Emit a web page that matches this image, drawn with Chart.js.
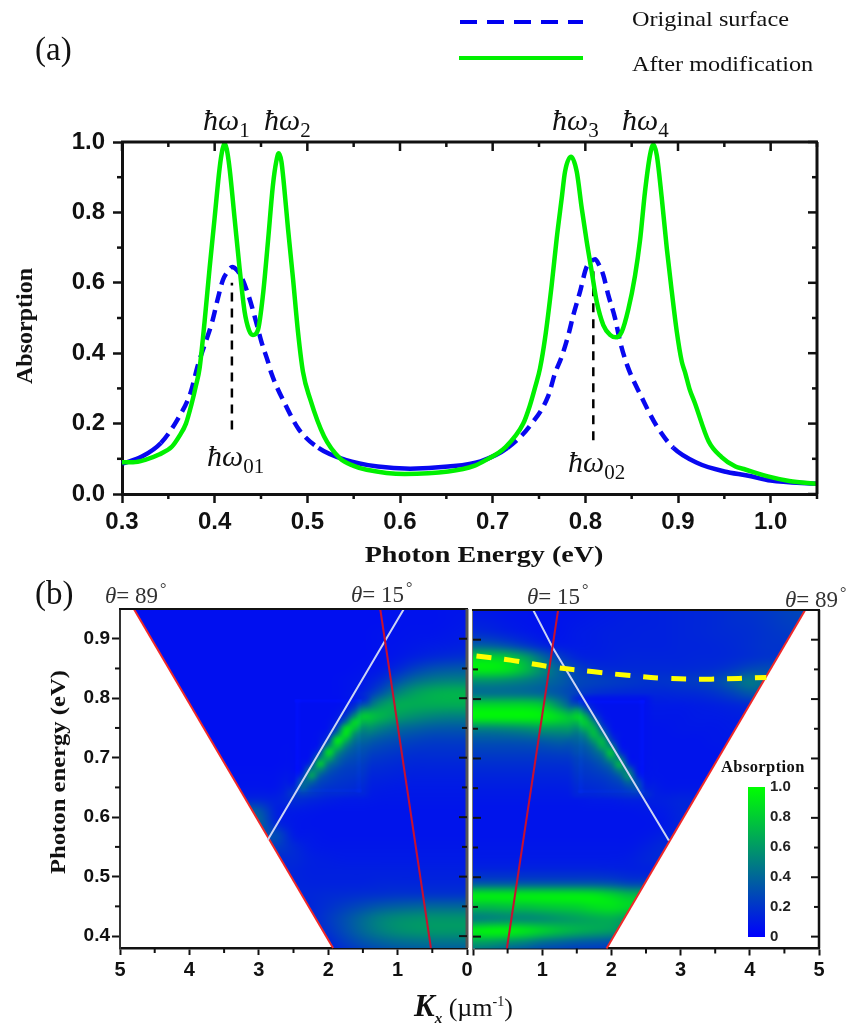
<!DOCTYPE html>
<html>
<head>
<meta charset="utf-8">
<title>Absorption spectra</title>
<script src="https://cdn.jsdelivr.net/npm/chart.js@4"></script>
<style>
  html, body { margin: 0; padding: 0; background: #fff; }
  #page { position: relative; width: 846px; height: 1030px; overflow: hidden; }
  canvas { position: absolute; left: 0; top: 0; }
  .t { position: absolute; white-space: nowrap; font-family: "Liberation Serif", serif; color: #111; line-height: 1; }
  .st { transform-origin: left center; transform: scaleX(1.155); font-size: 21px; }
  .w { font-size: 30px; font-style: italic; }
  .w sub { font-size: 21px; font-style: normal; vertical-align: -7px; line-height: 0; }
  .th { font-size: 23px; color: #333; }
  .th sup { font-size: 16px; vertical-align: 9px; line-height: 0; margin-left: 2px; }
  .ax { font-weight: bold; transform: translate(-50%, -50%); }
  .dash { position: absolute; left: 460px; top: 20px; width: 123px; height: 4px;
    background: repeating-linear-gradient(90deg, #0000f0 0 17px, transparent 17px 27px); }
  .solid { position: absolute; left: 459px; top: 56px; width: 124px; height: 4px; background: #00f000; }
</style>
</head>
<body>
<div id="page">
  <canvas id="top" width="846" height="1030"></canvas>
  <canvas id="left" width="846" height="1030"></canvas>
  <canvas id="right" width="846" height="1030"></canvas>
  <canvas id="bar" width="90" height="190" style="left:740px;top:770px"></canvas>

  <div class="dash"></div>
  <div class="solid"></div>
  <div class="t st" style="left:632px;top:9px">Original surface</div>
  <div class="t st" style="left:632px;top:54px">After modification</div>
  <div class="t" style="left:35px;top:33px;font-size:33px">(a)</div>
  <div class="t" style="left:35px;top:577px;font-size:33px">(b)</div>

  <div class="t w" style="left:203px;top:105px">&#295;&#969;<sub>1</sub></div>
  <div class="t w" style="left:264px;top:105px">&#295;&#969;<sub>2</sub></div>
  <div class="t w" style="left:552px;top:105px">&#295;&#969;<sub>3</sub></div>
  <div class="t w" style="left:622px;top:105px">&#295;&#969;<sub>4</sub></div>
  <div class="t w" style="left:207px;top:441px">&#295;&#969;<sub>01</sub></div>
  <div class="t w" style="left:568px;top:447px">&#295;&#969;<sub>02</sub></div>

  <div class="t ax" style="left:24px;top:326px;font-size:24px;transform:translate(-50%,-50%) rotate(-90deg)">Absorption</div>
  <div class="t ax" style="left:484px;top:554px;font-size:24px;transform:translate(-50%,-50%) scaleX(1.17)">Photon Energy (eV)</div>
  <div class="t ax" style="left:58px;top:772px;font-size:22px;transform:translate(-50%,-50%) rotate(-90deg) scaleX(1.12)">Photon energy (eV)</div>

  <div class="t th" style="left:105px;top:584px"><i>&#952;</i>= 89<sup>&#176;</sup></div>
  <div class="t th" style="left:351px;top:583px"><i>&#952;</i>= 15<sup>&#176;</sup></div>
  <div class="t th" style="left:527px;top:585px"><i>&#952;</i>= 15<sup>&#176;</sup></div>
  <div class="t th" style="left:785px;top:588px"><i>&#952;</i>= 89<sup>&#176;</sup></div>

  <div class="t" style="left:721px;top:759px;font-size:16.5px;font-weight:bold;letter-spacing:.4px">Absorption</div>
  <div class="t" style="left:414px;top:990px;font-size:26px">
    <b style="font-size:31px"><i>K</i></b><b style="font-size:15px;vertical-align:-7px"><i>x</i></b>
    (&#181;m<sup style="font-size:14px;vertical-align:10px;line-height:0">-1</sup>)
  </div>
</div>

<script>
/* (a) spectra */
const originalEnergy = [.30,.322,.342,.36,.374,.3819,.3891,.3974,.4035,.4089,.414,.419,.4245,.4288,.437,.4432,.4504,.4575,.4612,.477,.491,.512,.541,.576,.611,.652,.687,.716,.74,.76,.7673,.7745,.7817,.7871,.7943,.8008,.806,.8105,.815,.8194,.8248,.8321,.8375,.8454,.86,.877,.895,.921,.95,.976,1.0,1.05];
const originalAbs = [.086,.107,.145,.212,.288,.366,.423,.49,.556,.608,.632,.645,.635,.617,.56,.504,.433,.376,.343,.25,.183,.131,.097,.078,.072,.078,.093,.131,.193,.279,.343,.39,.452,.509,.575,.641,.66,.667,.65,.622,.565,.499,.433,.364,.279,.193,.131,.088,.064,.052,.038,.029];
const modifiedEnergy = [.30,.312,.325,.34,.354,.362,.369,.375,.38,.3837,.3891,.3945,.3999,.4053,.4085,.4107,.413,.4161,.4215,.4269,.4323,.437,.4413,.4467,.4521,.4575,.4629,.4665,.4691,.472,.4748,.4791,.4845,.4899,.4953,.503,.518,.535,.55,.564,.605,.652,.68,.693,.713,.733,.74,.746,.7511,.7565,.7637,.7691,.7745,.7781,.7846,.7907,.7961,.8015,.8069,.8123,.8194,.8267,.8331,.8393,.8464,.8536,.859,.8644,.8698,.8735,.8771,.8825,.8879,.8933,.8987,.9041,.9077,.9125,.918,.933,.947,.962,.971,.997,1.02,1.05];
const modifiedAbs = [.09,.09,.097,.112,.135,.165,.2,.255,.31,.357,.4895,.641,.783,.925,.98,.996,.98,.925,.783,.641,.518,.466,.452,.466,.565,.717,.878,.945,.968,.945,.878,.755,.613,.461,.347,.27,.164,.102,.08,.069,.057,.064,.08,.097,.131,.2,.25,.305,.357,.442,.594,.726,.84,.916,.958,.916,.812,.717,.632,.546,.48,.452,.445,.461,.525,.62,.72,.859,.963,.993,.963,.84,.698,.575,.461,.376,.345,.298,.26,.15,.105,.078,.071,.05,.037,.029];
const peakMarkEnergy = [.4186, .8086];
const peakMarkTop = [.6, .64];
const peakMarkBottom = [.183, .153];

const topXMajor = [.3,.4,.5,.6,.7,.8,.9,1.0];
const topXMinor = [.35,.45,.55,.65,.75,.85,.95,1.05];
const topYMajor = [0,.2,.4,.6,.8,1.0];
const topYMinor = [.1,.3,.5,.7,.9];

/* (b) maps: columns are Kx 0..5 in steps of .25, rows are energies below, values in percent */
const kxStep = .25;
const mapEnergy = [.95,.93,.91,.89,.87,.85,.83,.81,.79,.77,.75,.73,.71,.69,.67,.65,.63,.61,.59,.57,.55,.53,.51,.49,.47,.45,.43,.41,.39,.37];
const leftMap = [
  [8,8,7,7,7,6,6,6,6,6,6,6,6,6,6,6,6,6,6,6,6],
  [9,8,7,7,7,6,6,6,6,6,6,6,6,6,6,6,6,6,6,6,6],
  [10,9,8,8,7,7,6,6,6,6,6,6,6,6,6,6,6,6,6,6,6],
  [12,11,10,9,8,7,6,6,6,6,6,6,6,6,6,6,6,6,6,6,6],
  [18,17,15,12,9,7,6,6,6,6,6,6,6,6,6,6,6,6,6,6,6],
  [34,33,30,24,15,9,7,6,6,6,6,6,6,6,6,6,6,6,6,6,6],
  [50,50,48,42,30,16,9,7,6,6,6,6,6,6,6,6,6,6,6,6,6],
  [70,70,68,62,50,30,12,7,6,6,6,6,6,6,6,6,6,6,6,6,6],
  [68,68,68,68,68,58,30,9,6,6,6,6,6,6,6,6,6,6,6,6,6],
  [50,50,52,56,62,72,78,20,7,6,6,6,6,6,6,6,6,6,6,6,6],
  [34,34,35,38,42,50,62,70,9,6,6,6,6,6,6,6,6,6,6,6,6],
  [24,24,24,26,29,33,40,50,20,7,6,6,6,6,6,6,6,6,6,6,6],
  [19,19,19,19,21,24,28,36,60,8,7,6,6,6,6,6,6,6,6,6,6],
  [15,15,15,15,16,18,20,24,36,20,8,6,6,6,6,6,6,6,6,6,6],
  [12,12,12,12,13,14,15,18,24,40,12,7,7,7,7,7,7,7,7,7,7],
  [10,10,10,10,10,11,12,13,16,24,16,8,8,8,8,8,8,8,8,8,8],
  [9,9,9,9,9,9,10,10,12,15,18,12,14,14,14,14,14,14,14,14,14],
  [8,8,8,8,8,8,8,8,8,9,10,12,35,40,40,40,40,40,40,40,40],
  [8,8,8,8,8,8,8,8,8,8,9,14,40,40,40,40,40,40,40,40,40],
  [8,8,8,8,8,8,8,8,8,9,10,30,30,30,30,30,30,30,30,30,30],
  [9,9,9,9,9,9,9,9,9,10,16,24,24,24,24,24,24,24,24,24,24],
  [10,10,10,10,10,10,10,10,11,12,16,16,16,16,16,16,16,16,16,16,16],
  [12,12,12,12,12,12,12,12,12,12,14,16,16,16,16,16,16,16,16,16,16],
  [14,14,14,14,14,14,13,13,13,13,14,14,14,14,14,14,14,14,14,14,14],
  [20,20,20,20,20,19,18,17,16,15,15,15,15,15,15,15,15,15,15,15,15],
  [40,40,40,39,37,34,29,24,19,15,14,14,14,14,14,14,14,14,14,14,14],
  [58,58,58,57,55,50,41,31,22,15,14,14,14,14,14,14,14,14,14,14,14],
  [60,60,60,59,56,50,41,30,20,14,12,12,12,12,12,12,12,12,12,12,12],
  [45,45,45,44,42,38,32,24,15,11,10,10,10,10,10,10,10,10,10,10,10],
  [32,32,32,31,29,26,22,17,11,9,9,9,9,9,9,9,9,9,9,9,9]
];
const rightMap = [
  [9,9,8,8,7,7,8,9,10,11,12,13,14,15,16,18,20,22,25,28,30],
  [12,11,9,8,7,8,9,10,11,12,12,13,14,15,16,18,19,21,24,26,28],
  [18,16,13,10,8,8,10,11,12,12,13,13,14,15,16,17,18,20,22,24,26],
  [38,36,30,22,14,10,10,11,12,13,13,13,14,14,15,16,18,20,20,20,20],
  [85,85,80,65,42,24,14,12,13,14,14,14,14,15,15,16,18,20,20,20,20],
  [95,95,90,75,55,38,26,18,16,16,16,16,16,17,18,22,28,30,30,30,30],
  [55,55,52,48,42,36,28,26,24,22,20,20,22,24,28,38,48,40,40,40,40],
  [42,42,42,41,38,32,24,18,16,15,15,15,16,17,20,26,34,34,34,34,34],
  [85,85,85,85,80,55,26,12,10,10,10,10,10,11,12,14,16,16,16,16,16],
  [98,98,98,98,96,88,70,18,9,9,9,9,9,10,10,11,12,12,12,12,12],
  [50,50,52,55,60,60,60,40,9,8,8,8,9,9,9,10,10,10,10,10,10],
  [32,32,32,33,35,38,36,60,15,9,8,8,8,8,9,9,9,9,9,9,9],
  [24,24,24,24,24,25,26,38,50,8,8,8,8,8,8,9,9,9,9,9,9],
  [18,18,18,18,18,18,19,24,35,14,9,8,8,8,8,8,8,8,8,8,8],
  [14,14,14,14,14,14,15,17,25,30,10,8,8,8,8,8,8,8,8,8,8],
  [11,11,11,11,11,11,12,13,16,20,14,9,9,9,9,9,9,9,9,9,9],
  [9,9,9,9,9,9,9,10,10,12,12,12,14,14,14,14,14,14,14,14,14],
  [8,8,8,8,8,8,8,8,8,8,9,10,14,14,14,14,14,14,14,14,14],
  [8,8,8,8,8,8,8,8,8,8,8,9,14,14,14,14,14,14,14,14,14],
  [8,8,8,8,8,8,8,8,8,8,9,12,14,14,14,14,14,14,14,14,14],
  [9,9,9,9,9,9,9,9,9,9,12,16,16,16,16,16,16,16,16,16,16],
  [10,10,10,10,10,10,10,10,10,11,14,16,16,16,16,16,16,16,16,16,16],
  [15,15,15,15,15,15,15,15,14,13,13,13,13,13,13,13,13,13,13,13,13],
  [32,32,32,32,32,32,32,32,30,25,25,25,25,25,25,25,25,25,25,25,25],
  [95,95,95,95,95,95,95,93,85,75,75,75,75,75,75,75,75,75,75,75,75],
  [72,72,75,75,78,80,82,88,90,85,85,85,85,85,85,85,85,85,85,85,85],
  [48,50,52,52,54,58,62,66,68,60,60,60,60,60,60,60,60,60,60,60,60],
  [95,98,98,92,84,76,70,66,62,50,50,50,50,50,50,50,50,50,50,50,50],
  [62,60,55,50,42,38,34,32,30,26,26,26,26,26,26,26,26,26,26,26,26],
  [40,36,30,26,22,20,18,18,16,14,14,14,14,14,14,14,14,14,14,14,14]
];

/* finer patches for the narrow diagonal part of the band: Kx 1.5..2.5 by .125, E .80..64 by .01 */
const patchKxStart = 1.5;
const patchKxStep = .125;
const patchEStart = .80;
const patchEStep = .01;
const leftPatch = [
  [14,8,7,6,6,6,6,6,6],
  [30,14,8,6,6,6,6,6,6],
  [58,28,11,7,6,6,6,6,6],
  [80,55,20,9,6,6,6,6,6],
  [70,85,42,13,7,6,6,6,6],
  [55,78,85,24,8,6,6,6,6],
  [46,58,92,50,12,7,6,6,6],
  [40,46,72,92,24,8,6,6,6],
  [34,38,52,80,52,10,6,6,6],
  [30,33,40,58,88,22,7,6,6],
  [27,29,33,44,70,50,9,6,6],
  [24,26,28,36,48,80,18,7,6],
  [22,23,24,28,36,56,48,8,6],
  [20,21,22,24,28,38,65,18,7],
  [18,19,20,21,24,28,42,38,8],
  [16,17,18,19,20,23,28,40,14],
  [15,15,16,17,17,19,22,26,22]
];
const rightPatch = [
  [16,9,7,7,7,7,7,7,7],
  [34,18,9,7,7,7,7,7,7],
  [68,42,14,8,7,7,7,7,7],
  [85,70,30,10,7,7,7,7,7],
  [70,80,55,16,8,7,7,7,7],
  [55,68,72,30,9,7,7,7,7],
  [44,52,74,52,14,8,7,7,7],
  [38,42,60,72,26,8,7,7,7],
  [33,35,46,68,52,10,7,7,7],
  [30,31,38,50,78,20,8,7,7],
  [26,27,32,40,62,48,9,7,7],
  [24,24,27,33,44,72,18,8,7],
  [22,22,24,27,34,52,45,9,7],
  [20,20,21,23,27,36,58,16,8],
  [18,18,19,20,23,27,40,30,9],
  [16,16,17,18,20,22,27,32,12],
  [15,15,15,16,17,18,20,22,18]
];

/* lines over the maps */
const coneKx = [4.8, 1.93];
const coneE = [.95, .38];
const leftWhiteKx = [.91, 1.24, 2.87];
const rightWhiteKx = [.87, 1.16, 2.83];
const whiteE = [.95, .885, .562];
const leftRedKx = [1.25, .52];
const rightRedKx = [1.23, .49];
const redE = [.95, .38];
const yellowKx = [.05,.54,1.12,1.75,2.23,2.81,3.44,4.24];
const yellowE = [.8727,.8656,.8544,.846,.84,.8348,.8336,.8365];

const mapXMajor = [0,1,2,3,4,5];
const mapXMinor = [.5,1.5,2.5,3.5,4.5];
const mapYMajor = [.4,.5,.6,.7,.8,.9];
const mapYMinor = [.45,.55,.65,.75,.85];
const barTicks = [0,.2,.4,.6,.8,1];

const xy = (xs, ys) => xs.map((x, i) => ({ x, y: ys[i] }));
const INK = '#111';

/* frame: top/right borders and the ticks chart.js can't mix (minor, inward) */
const framePlugin = {
  id: 'frame',
  afterDraw(chart, args, o) {
    if (!o.xMajor) return;
    const { ctx, chartArea: a, scales: { x, y } } = chart;
    const tick = (x0, y0, x1, y1, w) => {
      ctx.lineWidth = w;
      ctx.beginPath(); ctx.moveTo(x0, y0); ctx.lineTo(x1, y1); ctx.stroke();
    };
    ctx.save();
    ctx.strokeStyle = INK;
    if (o.topBorder) tick(a.left - 1, a.top, a.right + 1, a.top, o.topBorder);
    ctx.strokeStyle = o.rightColor || INK;
    if (o.rightBorder) tick(a.right, a.top, a.right, a.bottom, o.rightBorder);
    ctx.strokeStyle = INK;
    const w = o.tickWidth;
    o.xMajor.forEach(v => { if (o.topTicks) tick(x.getPixelForValue(v), a.top, x.getPixelForValue(v), a.top + o.major, w); });
    o.xMinor.forEach(v => {
      const p = x.getPixelForValue(v);
      if (o.topTicks) tick(p, a.top, p, a.top + o.minor, w);
      tick(p, a.bottom, p, a.bottom + o.minor, w);
    });
    o.yMajor.forEach(v => {
      const p = y.getPixelForValue(v);
      if (o.inRight) tick(a.right, p, a.right - o.major, p, w);
      if (o.inLeft) tick(a.left, p, a.left + o.major, p, w);
    });
    o.yMinor.forEach(v => {
      const p = y.getPixelForValue(v);
      if (o.inRight) tick(a.right, p, a.right - o.minor, p, w);
      if (o.inLeft) tick(a.left, p, a.left + o.minor, p, w);
      if (o.outLeft) tick(a.left, p, a.left - o.minor, p, w);
    });
    ctx.restore();
  }
};

/* one value grid -> bitmap, with a transparent ring when it sits on top of another grid */
function gridBitmap(rows, ring) {
  const cols = rows[0].length;
  const off = document.createElement('canvas');
  off.width = cols + ring * 2;
  off.height = rows.length + ring * 2;
  const oc = off.getContext('2d');
  const img = oc.createImageData(off.width, off.height);
  rows.forEach((row, r) => row.forEach((v, c) => {
    const i = ((r + ring) * off.width + c + ring) * 4;
    img.data[i + 1] = Math.round(255 * v / 100);
    img.data[i + 2] = Math.round(255 * (1 - v / 100));
    img.data[i + 3] = 255;
  }));
  oc.putImageData(img, 0, 0);
  return off;
}

/* paints the grids through the x/y scales, smoothed by the canvas and cut at the light line */
const heatPlugin = {
  id: 'heat',
  beforeDatasetsDraw(chart, args, o) {
    if (!o.rows) return;
    const { ctx, chartArea: a, scales: { x, y } } = chart;
    const put = (bmp, k0, dk, e0, de) => {
      const x0 = x.getPixelForValue(k0);
      const x1 = x.getPixelForValue(k0 + dk * bmp.width);
      const y0 = y.getPixelForValue(e0);
      const y1 = y.getPixelForValue(e0 - de * bmp.height);
      ctx.save();
      ctx.translate(x0, y0);
      ctx.scale((x1 - x0) / bmp.width, (y1 - y0) / bmp.height);
      ctx.drawImage(bmp, 0, 0);
      ctx.restore();
    };

    ctx.save();
    ctx.beginPath();
    ctx.moveTo(x.getPixelForValue(0), y.getPixelForValue(coneE[0]));
    ctx.lineTo(x.getPixelForValue(coneKx[0]), y.getPixelForValue(coneE[0]));
    ctx.lineTo(x.getPixelForValue(coneKx[1]), y.getPixelForValue(coneE[1]));
    ctx.lineTo(x.getPixelForValue(0), y.getPixelForValue(coneE[1]));
    ctx.closePath();
    ctx.clip();
    ctx.imageSmoothingEnabled = true;
    ctx.imageSmoothingQuality = 'high';

    const dE = mapEnergy[0] - mapEnergy[1];
    put(gridBitmap(o.rows, 0), -kxStep / 2, kxStep, mapEnergy[0] + dE / 2, dE);
    put(gridBitmap(o.patch, 1), patchKxStart - patchKxStep * 1.5, patchKxStep, patchEStart + patchEStep * 1.5, patchEStep);
    ctx.restore();
  }
};

Chart.register(framePlugin, heatPlugin);

const sizeX = h => scale => { scale.height = h; };
const sizeY = w => scale => { scale.width = w; };
const line = (data, color, width, extra) => Object.assign({
  data, borderColor: color, borderWidth: width, showLine: true,
  pointRadius: 0, clip: 4
}, extra);

/* (a) */
new Chart(document.getElementById('top'), {
  type: 'scatter',
  data: {
    datasets: [
      line(xy(modifiedEnergy, modifiedAbs), '#00f000', 4.5, { cubicInterpolationMode: 'monotone' }),
      line(xy([peakMarkEnergy[0], peakMarkEnergy[0]], [peakMarkBottom[0], peakMarkTop[0]]), '#000', 2.5, { borderDash: [9, 7] }),
      line(xy([peakMarkEnergy[1], peakMarkEnergy[1]], [peakMarkBottom[1], peakMarkTop[1]]), '#000', 2.5, { borderDash: [9, 7] }),
      line(xy(originalEnergy, originalAbs), '#0808f0', 4.5, {
        cubicInterpolationMode: 'monotone',
        segment: { borderDash: c => (c.p0.parsed.y > .17 || c.p1.parsed.y > .17) ? [12, 7] : undefined }
      })
    ]
  },
  options: {
    responsive: false, animation: false, devicePixelRatio: 1,
    layout: { padding: { left: 14, top: 142, right: 29, bottom: 460 } },
    plugins: {
      legend: { display: false }, tooltip: { enabled: false },
      frame: { topBorder: 3, rightBorder: 3, topTicks: true, inRight: true, outLeft: true, major: 9, minor: 5, tickWidth: 2.5,
        xMajor: topXMajor, xMinor: topXMinor, yMajor: topYMajor, yMinor: topYMinor }
    },
    scales: {
      x: {
        type: 'linear', min: .3, max: 1.05, afterFit: sizeX(76),
        grid: { drawOnChartArea: false, tickLength: 9, tickWidth: 2.5, tickColor: INK },
        border: { width: 3, color: INK },
        ticks: { stepSize: .1, includeBounds: false, autoSkip: false, maxRotation: 0, padding: 5, color: '#111',
          font: { family: '"Liberation Sans"', weight: 'bold', size: 24 }, callback: v => v.toFixed(1) }
      },
      y: {
        min: 0, max: 1, afterFit: sizeY(108),
        grid: { drawOnChartArea: false, tickLength: 9, tickWidth: 2.5, tickColor: INK },
        border: { width: 3, color: INK },
        ticks: { stepSize: .2, padding: 8, color: '#111',
          font: { family: '"Liberation Sans"', weight: 'bold', size: 24 }, callback: v => v.toFixed(1) }
      }
    }
  }
});

const mapOptions = (rows, patch, reversed, yAxis, pad, frame) => ({
  responsive: false, animation: false, devicePixelRatio: 1,
  layout: { padding: pad },
  plugins: {
    legend: { display: false }, tooltip: { enabled: false },
    heat: { rows, patch },
    frame: Object.assign({ topBorder: 2, major: 8, minor: 5, tickWidth: 2,
      xMajor: mapXMajor, xMinor: mapXMinor, yMajor: mapYMajor, yMinor: mapYMinor }, frame)
  },
  scales: {
    x: {
      type: 'linear', min: 0, max: 5, reverse: reversed, afterFit: sizeX(36),
      grid: { drawOnChartArea: false, tickLength: 7, tickWidth: 2, tickColor: INK },
      border: { width: 2.5, color: INK },
      ticks: { stepSize: 1, autoSkip: false, maxRotation: 0, padding: 3, color: '#111',
        font: { family: '"Liberation Sans"', weight: 'bold', size: 20 },
        callback: v => (!reversed && v === 0) ? '' : v }
    },
    y: yAxis
  }
});

/* (b) left */
new Chart(document.getElementById('left'), {
  type: 'scatter',
  data: {
    datasets: [
      line(xy(leftRedKx, redE), '#c81030', 2),
      line(xy(leftWhiteKx, whiteE), '#ccd4f4', 2),
      line(xy(coneKx, coneE), '#f02828', 2)
    ]
  },
  options: mapOptions(leftMap, leftPatch, true, {
    min: .38, max: .95, afterFit: sizeY(74),
    grid: { drawOnChartArea: false, tickLength: 8, tickWidth: 2, tickColor: INK },
    border: { width: 2, color: '#333' },
    ticks: { stepSize: .1, padding: 2, color: '#111', autoSkip: false,
      font: { family: '"Liberation Sans"', weight: 'bold', size: 19 },
      callback: v => v.toFixed(1) },
    afterBuildTicks: s => { s.ticks = mapYMajor.map(value => ({ value })); }
  }, { left: 46, top: 609, right: 379, bottom: 46 }, { rightBorder: 3, rightColor: '#555', inRight: true, outLeft: true })
});

/* (b) right */
new Chart(document.getElementById('right'), {
  type: 'scatter',
  data: {
    datasets: [
      line(xy(yellowKx, yellowE), '#ffff00', 5, { borderDash: [15, 13], tension: .4 }),
      line(xy(rightRedKx, redE), '#c81030', 2),
      line(xy(rightWhiteKx, whiteE), '#ccd4f4', 2),
      line(xy(coneKx, coneE), '#f02828', 2)
    ]
  },
  options: mapOptions(rightMap, rightPatch, false, {
    min: .38, max: .95, afterFit: sizeY(0),
    grid: { display: false, drawTicks: false },
    border: { width: 3, color: '#777' },
    ticks: { display: false },
    afterBuildTicks: s => { s.ticks = mapYMajor.map(value => ({ value })); }
  }, { left: 473, top: 610, right: 27, bottom: 45.5 }, { rightBorder: 2.5, inRight: true, inLeft: true })
});

/* colour bar */
new Chart(document.getElementById('bar'), {
  type: 'bar',
  data: {
    labels: ['Absorption'],
    datasets: [{
      data: [[barTicks[0], barTicks[barTicks.length - 1]]],
      barPercentage: 1, categoryPercentage: 1, borderSkipped: false,
      backgroundColor: c => {
        const a = c.chart.chartArea;
        if (!a) return '#0000ff';
        const g = c.chart.ctx.createLinearGradient(0, a.bottom, 0, a.top);
        g.addColorStop(0, 'rgb(0,0,255)');
        g.addColorStop(1, 'rgb(0,255,0)');
        return g;
      }
    }]
  },
  options: {
    responsive: false, animation: false, devicePixelRatio: 1,
    layout: { padding: { left: 8, top: 17, right: 0, bottom: 23 } },
    plugins: { legend: { display: false }, tooltip: { enabled: false } },
    scales: {
      x: { display: false },
      y: {
        position: 'right', min: 0, max: 1, afterFit: sizeY(65),
        grid: { display: false, drawTicks: false }, border: { display: false },
        ticks: { stepSize: .2, padding: 5, color: '#222',
          font: { family: '"Liberation Sans"', weight: 'bold', size: 15 },
          callback: v => v === 0 ? '0' : v.toFixed(1) }
      }
    }
  }
});
</script>
</body>
</html>
